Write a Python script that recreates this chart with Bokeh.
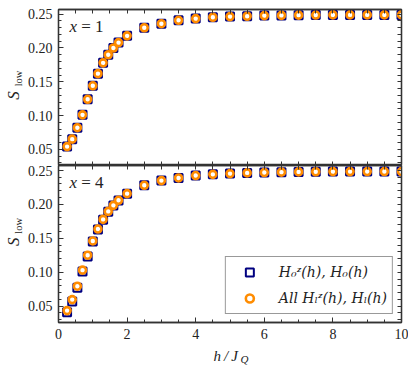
import math
from bokeh.plotting import figure
from bokeh.layouts import column, row
from bokeh.models import (Range1d, FixedTicker, LinearAxis, Label, Legend, LegendItem,
                          PrintfTickFormatter)
from bokeh.embed import file_html
from bokeh.resources import INLINE

# ---------------- data ----------------
h = [0.25, 0.4, 0.55, 0.7, 0.85, 1.0, 1.15, 1.3, 1.45, 1.6, 1.75, 2.0,
     2.5, 3.0, 3.5, 4.0, 4.5, 5.0, 5.5, 6.0, 6.5, 7.0, 7.5, 8.0, 8.5, 9.0, 9.5, 10.0]

# x = 1 panel
s1_H0 = [0.054, 0.065, 0.082, 0.101, 0.124, 0.144, 0.162, 0.178, 0.190, 0.200, 0.208, 0.218,
         0.230, 0.236, 0.241, 0.2435, 0.2455, 0.2465, 0.247, 0.248, 0.2483, 0.2486, 0.2488,
         0.249, 0.249, 0.249, 0.249, 0.249]
s1_all = [0.054, 0.065, 0.082, 0.101, 0.124, 0.144, 0.162, 0.178, 0.190, 0.200, 0.208, 0.218,
          0.230, 0.236, 0.241, 0.2435, 0.2455, 0.2465, 0.247, 0.248, 0.2483, 0.2486, 0.2488,
          0.249, 0.249, 0.249, 0.249, 0.249]

# x = 4 panel
s4_H0 = [0.041, 0.057, 0.077, 0.101, 0.123, 0.145, 0.163, 0.177, 0.189, 0.198, 0.2055, 0.2155,
         0.2279, 0.2348, 0.2387, 0.2422, 0.244, 0.2451, 0.2461, 0.2466, 0.2472, 0.2476, 0.2478,
         0.248, 0.248, 0.2481, 0.2481, 0.2481]
s4_all = [0.0435, 0.0597, 0.0794, 0.103, 0.125, 0.146, 0.1635, 0.1777, 0.1895, 0.1984, 0.2058,
          0.2156, 0.2279, 0.2348, 0.2387, 0.2422, 0.244, 0.2451, 0.2461, 0.2466, 0.2472, 0.2476,
          0.2478, 0.248, 0.248, 0.2481, 0.2481, 0.2481]

x_ticks = [0, 2, 4, 6, 8, 10]
x_minor = [i * 0.5 for i in range(0, 21)]
y_ticks = [0.05, 0.10, 0.15, 0.20, 0.25]
y_minor = [round(0.03 + 0.01 * i, 2) for i in range(0, 23)]

legend_labels = ["H\u2080\u1DBB(h), H\u2080(h)", "All H\u2097\u1DBB(h), H\u2097(h)"]
panel_labels = ["= 1", "= 4"]

NAVY = "#000080"
ORANGE = "#ff8c00"
AXC = "#333333"
TXT = "#222222"
SERIF = "Liberation Serif"

x_range = Range1d(0, 10)


def style_common(ax):
    ax.major_tick_out = 0
    ax.minor_tick_out = 0
    ax.axis_line_color = AXC
    ax.axis_line_width = 1.3
    ax.major_tick_line_color = AXC
    ax.minor_tick_line_color = AXC


def labeled_axis(ax, ticks, minor, fmt):
    ax.ticker = FixedTicker(ticks=ticks, minor_ticks=minor)
    style_common(ax)
    ax.major_tick_in = 5
    ax.minor_tick_in = 3
    ax.major_label_text_font = SERIF
    ax.major_label_text_font_size = "14px"
    ax.major_label_text_color = TXT
    ax.major_label_standoff = 6
    ax.formatter = PrintfTickFormatter(format=fmt)


def bare_axis(ax, minor):
    # ticks only, no labels
    ax.ticker = FixedTicker(ticks=[], minor_ticks=minor)
    style_common(ax)
    ax.minor_tick_in = 4
    ax.major_label_standoff = 0


def make_panel(height, b_top, b_bottom, yA, yB, tag, x_labels):
    p = figure(width=384, height=height, x_range=x_range, y_range=Range1d(0.026, 0.257),
               output_backend="svg", toolbar_location=None,
               min_border_left=33, min_border_right=7,
               min_border_top=b_top, min_border_bottom=b_bottom)
    p.grid.visible = False
    p.outline_line_color = AXC
    p.outline_line_width = 1.3
    p.background_fill_color = "white"
    p.border_fill_color = "white"

    if x_labels:
        labeled_axis(p.xaxis[0], x_ticks, x_minor, "%d")
    else:
        bare_axis(p.xaxis[0], x_minor)
    labeled_axis(p.yaxis[0], y_ticks, y_minor, "%.2f")
    top = LinearAxis()
    right = LinearAxis()
    bare_axis(top, x_minor)
    bare_axis(right, y_minor)
    p.add_layout(top, "above")
    p.add_layout(right, "right")

    sq = p.scatter(h, yA, marker="square", size=8, line_color=NAVY, line_width=2,
                   fill_color="white")
    ci = p.scatter(h, yB, marker="circle", size=7, line_color=ORANGE, line_width=2.6,
                   fill_color="white")

    # panel tag "x = n"
    p.add_layout(Label(x=0.32, y=0.2325, text="x", text_font=SERIF, text_font_style="italic",
                       text_font_size="17px", text_baseline="alphabetic", text_color=TXT))
    p.add_layout(Label(x=0.66, y=0.2325, text=tag, text_font=SERIF,
                       text_font_size="17px", text_baseline="alphabetic", text_color=TXT))
    return p, sq, ci


def label_strip(width, height):
    f = figure(width=width, height=height, x_range=Range1d(0, 1), y_range=Range1d(0, 1),
               output_backend="svg", toolbar_location=None,
               x_axis_location=None, y_axis_location=None,
               min_border_left=0, min_border_right=0, min_border_top=0, min_border_bottom=0)
    f.grid.visible = False
    f.outline_line_color = None
    f.background_fill_color = "white"
    f.border_fill_color = "white"
    return f


def ylabel_strip(height, ys, yl):
    f = label_strip(24, height)
    f.add_layout(Label(x=0.554, y=ys, text="S", text_font=SERIF, text_font_style="italic",
                       text_font_size="17px", angle=math.pi / 2, text_align="center",
                       text_baseline="middle", text_color=TXT))
    f.add_layout(Label(x=0.75, y=yl, text="low", text_font=SERIF,
                       text_font_size="10.5px", angle=math.pi / 2, text_align="center",
                       text_baseline="middle", text_color=TXT))
    return f


p1, _, _ = make_panel(165, 9, 0, s1_H0, s1_all, panel_labels[0], False)
p2, sq2, ci2 = make_panel(177, 0, 20, s4_H0, s4_all, panel_labels[1], True)

legend = Legend(items=[LegendItem(label=legend_labels[0], renderers=[sq2]),
                       LegendItem(label=legend_labels[1], renderers=[ci2])],
                location="bottom_right", margin=8, padding=5, spacing=6,
                glyph_width=37, glyph_height=20, label_standoff=11, label_height=20,
                label_text_font="DejaVu Serif", label_text_font_style="italic",
                label_text_font_size="14px", label_text_color=TXT,
                border_line_color=AXC, border_line_width=1.2,
                background_fill_color="white", background_fill_alpha=1.0)
p2.add_layout(legend)

lab1 = ylabel_strip(165, 0.448, 0.558)
lab2 = ylabel_strip(177, 0.514, 0.616)

xlab = label_strip(408, 25)
xlab.add_layout(Label(x=0.522, y=0.452, text="h\u2009/\u2009J", text_font=SERIF,
                      text_font_style="italic", text_font_size="15px",
                      text_baseline="alphabetic", text_color=TXT))
xlab.add_layout(Label(x=0.588, y=0.34, text="Q", text_font=SERIF, text_font_style="italic",
                      text_font_size="11px", text_baseline="alphabetic", text_color=TXT))

layout = column(row(lab1, p1, spacing=0), row(lab2, p2, spacing=0), xlab, spacing=0)
open("out.html", "w").write(file_html(layout, INLINE))
